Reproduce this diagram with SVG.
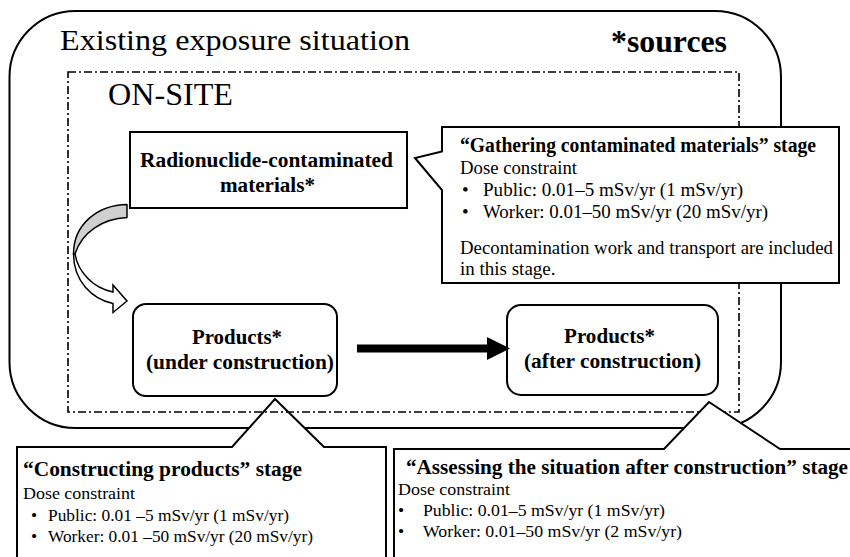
<svg xmlns="http://www.w3.org/2000/svg" width="850" height="557" viewBox="0 0 850 557">
<defs>
<style>
.line{fill:none;stroke:#000;stroke-width:2}
.box{fill:#fff;stroke:#000;stroke-width:2}
.dash{fill:none;stroke:#000;stroke-width:1.6;stroke-dasharray:8 3 2 3}
.b{font-weight:bold}
.s19{font-size:19px}
.s18{font-size:17.5px}
</style>
<marker id="head" markerUnits="userSpaceOnUse" markerWidth="24" markerHeight="24" refX="1" refY="11.5" orient="auto" viewBox="0 0 24 24">
<path d="M0,0 L23,11.5 L0,23 Z" fill="#000"/>
</marker>
</defs>
<rect width="850" height="557" fill="#fff"/>
<g font-family="'Liberation Serif', 'Times New Roman', serif" fill="#000">
<g id="existing-exposure-situation">
<rect class="line" x="9.5" y="11" width="771.5" height="417" rx="66" ry="66"/>
<text x="60" y="50" font-size="30" textLength="350" lengthAdjust="spacingAndGlyphs">Existing exposure situation</text>
<text class="b" x="611" y="52" font-size="31" textLength="116" lengthAdjust="spacingAndGlyphs">*sources</text>
</g>

<g id="callout-constructing">
<path class="box" d="M17,447 H232 L275,399 L324,447 H386 V562 H17 Z"/>
<text class="b" x="23" y="476" font-size="20.5" textLength="279" lengthAdjust="spacingAndGlyphs">“Constructing products” stage</text>
<text class="s18" x="23" y="499" textLength="112" lengthAdjust="spacingAndGlyphs">Dose constraint</text>
<text class="s18" x="31" y="521">•</text>
<text class="s18" x="48" y="521" textLength="241" lengthAdjust="spacingAndGlyphs">Public: 0.01 –5 mSv/yr (1 mSv/yr)</text>
<text class="s18" x="31" y="542">•</text>
<text class="s18" x="48" y="542" textLength="265" lengthAdjust="spacingAndGlyphs">Worker: 0.01 –50 mSv/yr (20 mSv/yr)</text>
</g>

<g id="on-site">
<rect class="dash" x="68" y="72" width="671" height="340"/>
<text x="108" y="105" font-size="32" textLength="125" lengthAdjust="spacingAndGlyphs">ON-SITE</text>
</g>

<g id="radionuclide-contaminated-materials">
<rect class="box" x="130" y="132" width="277" height="76"/>
<text class="b" x="140" y="167" font-size="20.5" textLength="253" lengthAdjust="spacingAndGlyphs">Radionuclide-contaminated</text>
<text class="b" x="220" y="192" font-size="20.5" textLength="95" lengthAdjust="spacingAndGlyphs">materials*</text>
</g>

<g id="products-under-construction">
<rect class="box" x="133" y="304" width="204" height="92" rx="13" ry="13"/>
<text class="b" x="192" y="344" font-size="20.5" textLength="90" lengthAdjust="spacingAndGlyphs">Products*</text>
<text class="b" x="146" y="369" font-size="20.5" textLength="188" lengthAdjust="spacingAndGlyphs">(under construction)</text>
</g>

<g id="products-after-construction">
<rect class="box" x="507" y="305" width="211" height="90" rx="14" ry="14"/>
<text class="b" x="564" y="343" font-size="20.5" textLength="91" lengthAdjust="spacingAndGlyphs">Products*</text>
<text class="b" x="524" y="368" font-size="20.5" textLength="177" lengthAdjust="spacingAndGlyphs">(after construction)</text>
</g>

<g id="connectors">
<path d="M127,204.5 L127,217.5 C103,218.5 82,232 75,254 L73.5,254 C73.5,224 98,205 127,204.5 Z" fill="#d0d0d0" stroke="#000" stroke-width="1.5" stroke-linejoin="round"/>
<path d="M73.5,254 C73.5,281 92,299 113,303.5 L113,312.5 L127,301 L113,285 L113,292 C93,288 78,272 75,254 Z" fill="#fff" stroke="#000" stroke-width="1.5" stroke-linejoin="miter"/>
<line x1="357" y1="348.5" x2="488" y2="348.5" stroke="#000" stroke-width="8" marker-end="url(#head)"/>
</g>

<g id="callout-assessing">
<path class="box" d="M394,449 H664 L709,402 L780,449 H853 V562 H394 Z"/>
<text class="b" x="406" y="474" font-size="20.5" textLength="442" lengthAdjust="spacingAndGlyphs">“Assessing the situation after construction” stage</text>
<text class="s18" x="398" y="495" textLength="112" lengthAdjust="spacingAndGlyphs">Dose constraint</text>
<text class="s18" x="398" y="516">•</text>
<text class="s18" x="423" y="516" textLength="242" lengthAdjust="spacingAndGlyphs">Public: 0.01–5 mSv/yr (1 mSv/yr)</text>
<text class="s18" x="398" y="537">•</text>
<text class="s18" x="423" y="537" textLength="259" lengthAdjust="spacingAndGlyphs">Worker: 0.01–50 mSv/yr (2 mSv/yr)</text>
</g>

<g id="callout-gathering">
<path class="box" d="M442,127 H839 V283 H442 V190 L415,158 L442,151.5 Z"/>
<text class="b" x="460" y="152" font-size="20" textLength="356" lengthAdjust="spacingAndGlyphs">“Gathering contaminated materials” stage</text>
<text class="s19" x="460" y="174" textLength="117" lengthAdjust="spacingAndGlyphs">Dose constraint</text>
<text class="s19" x="462" y="196">•</text>
<text class="s19" x="483" y="196" textLength="260" lengthAdjust="spacingAndGlyphs">Public: 0.01–5 mSv/yr (1 mSv/yr)</text>
<text class="s19" x="462" y="218">•</text>
<text class="s19" x="483" y="218" textLength="285" lengthAdjust="spacingAndGlyphs">Worker: 0.01–50 mSv/yr (20 mSv/yr)</text>
<text class="s19" x="460" y="254" textLength="373" lengthAdjust="spacingAndGlyphs">Decontamination work and transport are included</text>
<text class="s19" x="460" y="275">in this stage.</text>
</g>
</g>
</svg>
